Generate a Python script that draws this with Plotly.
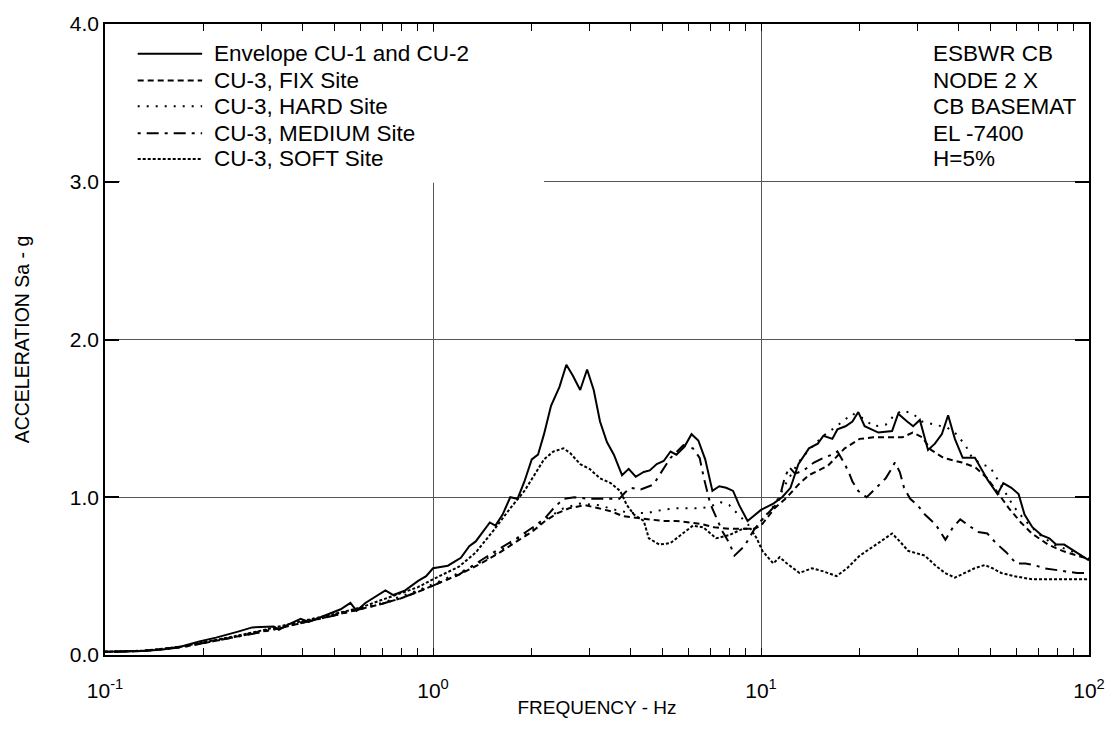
import plotly.graph_objects as go

# ---------------- data (frequency Hz, spectral acceleration g) ----------------
envelope_pts = [
    (0.1, 0.02), (0.13, 0.025), (0.15, 0.035), (0.172, 0.055), (0.194, 0.085),
    (0.218, 0.11), (0.256, 0.15), (0.281, 0.175), (0.327, 0.18), (0.339, 0.16),
    (0.359, 0.19), (0.395, 0.23), (0.418, 0.21), (0.481, 0.26), (0.523, 0.29),
    (0.56, 0.33), (0.585, 0.28), (0.622, 0.33), (0.667, 0.37), (0.716, 0.41),
    (0.757, 0.38), (0.823, 0.41), (0.901, 0.47), (0.953, 0.50), (1.0, 0.55),
    (1.11, 0.566), (1.216, 0.616), (1.29, 0.69), (1.35, 0.72), (1.49, 0.84),
    (1.55, 0.82), (1.63, 0.89), (1.72, 1.0), (1.81, 0.99), (1.90, 1.10),
    (2.0, 1.24), (2.09, 1.27), (2.18, 1.40), (2.29, 1.58), (2.43, 1.70),
    (2.55, 1.84), (2.67, 1.77), (2.81, 1.68), (2.95, 1.81), (3.09, 1.68),
    (3.23, 1.48), (3.39, 1.35), (3.56, 1.27), (3.77, 1.14), (3.95, 1.18),
    (4.15, 1.13), (4.39, 1.16), (4.58, 1.17), (4.81, 1.21), (5.05, 1.23),
    (5.30, 1.29), (5.52, 1.27), (5.84, 1.32), (6.14, 1.40), (6.44, 1.36),
    (6.76, 1.24), (7.11, 1.04), (7.46, 1.07), (7.83, 1.06), (8.22, 1.04),
    (8.58, 0.95), (9.1, 0.85), (9.5, 0.88), (10.0, 0.92), (10.9, 0.96),
    (11.6, 1.0), (12.3, 1.06), (13.0, 1.21), (14.0, 1.31), (14.9, 1.34),
    (15.5, 1.39), (16.5, 1.37), (17.1, 1.43), (18.1, 1.45), (19.0, 1.48),
    (19.8, 1.54), (20.7, 1.45), (21.8, 1.43), (22.8, 1.41), (25.1, 1.42),
    (26.2, 1.53), (27.9, 1.48), (29.1, 1.45), (30.5, 1.49), (32.3, 1.30),
    (33.9, 1.34), (35.6, 1.40), (37.2, 1.52), (39.0, 1.37), (41.2, 1.25),
    (44.9, 1.25), (49.1, 1.11), (52.6, 1.02), (54.8, 1.09), (58.0, 1.06),
    (61.0, 1.02), (63.6, 0.89), (67.2, 0.81), (71.6, 0.76), (75.7, 0.74),
    (79.4, 0.70), (84.0, 0.70), (90.0, 0.66), (100.0, 0.60),
]

fix_pts = [
    (0.1, 0.02), (0.13, 0.025), (0.17, 0.05), (0.2, 0.075), (0.25, 0.115),
    (0.3, 0.145), (0.35, 0.175), (0.4, 0.205), (0.5, 0.25), (0.6, 0.29),
    (0.7, 0.325), (0.8, 0.36), (0.9, 0.40), (1.0, 0.44), (1.2, 0.51),
    (1.4, 0.58), (1.6, 0.65), (1.8, 0.72), (2.0, 0.78), (2.2, 0.85),
    (2.4, 0.90), (2.6, 0.93), (2.9, 0.95), (3.2, 0.93), (3.5, 0.91),
    (3.8, 0.88), (4.2, 0.87), (4.6, 0.86), (5.0, 0.85), (5.5, 0.85),
    (6.0, 0.84), (6.6, 0.83), (7.2, 0.81), (8.0, 0.80), (8.7, 0.80),
    (9.5, 0.80), (10.0, 0.82), (11.0, 0.93), (12.0, 1.0), (13.0, 1.08),
    (14.0, 1.14), (15.0, 1.17), (16.0, 1.20), (18.0, 1.31), (20.0, 1.37),
    (22.0, 1.38), (25.0, 1.38), (27.0, 1.38), (29.0, 1.41), (31.0, 1.38),
    (33.0, 1.30), (36.0, 1.25), (41.0, 1.22), (45.0, 1.19), (49.0, 1.12),
    (53.0, 1.02), (57.0, 0.93), (62.0, 0.84), (67.0, 0.77), (75.0, 0.70),
    (83.0, 0.66), (92.0, 0.63), (100.0, 0.61),
]

hard_pts = [
    (0.1, 0.02), (0.13, 0.025), (0.17, 0.05), (0.2, 0.08), (0.25, 0.12),
    (0.3, 0.15), (0.35, 0.18), (0.4, 0.21), (0.5, 0.255), (0.6, 0.295),
    (0.7, 0.33), (0.8, 0.37), (0.9, 0.41), (1.0, 0.45), (1.2, 0.52),
    (1.4, 0.59), (1.6, 0.66), (1.8, 0.73), (2.0, 0.79), (2.2, 0.86),
    (2.5, 0.93), (2.8, 0.96), (3.2, 0.95), (3.6, 0.92), (4.0, 0.90),
    (4.5, 0.90), (5.0, 0.92), (5.5, 0.93), (6.0, 0.93), (6.5, 0.93),
    (7.0, 0.94), (7.5, 0.97), (8.0, 0.95), (8.6, 0.88), (9.2, 0.82),
    (9.6, 0.80), (10.0, 0.85), (11.0, 0.95), (12.0, 1.10), (13.0, 1.22),
    (14.0, 1.30), (15.5, 1.39), (17.0, 1.45), (19.0, 1.53), (20.5, 1.50),
    (22.0, 1.45), (24.0, 1.46), (25.5, 1.52), (27.0, 1.55), (29.0, 1.53),
    (31.0, 1.48), (34.0, 1.46), (37.0, 1.44), (39.0, 1.41), (42.0, 1.33),
    (44.0, 1.25), (47.0, 1.21), (50.0, 1.19), (53.0, 1.10), (55.0, 1.05),
    (59.0, 0.94), (64.0, 0.85), (70.0, 0.77), (78.0, 0.70), (88.0, 0.66),
    (100.0, 0.61),
]

medium_pts = [
    (0.1, 0.02), (0.13, 0.025), (0.17, 0.048), (0.2, 0.075), (0.25, 0.115),
    (0.3, 0.145), (0.35, 0.175), (0.4, 0.205), (0.5, 0.25), (0.6, 0.29),
    (0.7, 0.325), (0.8, 0.36), (0.9, 0.40), (1.0, 0.44), (1.2, 0.51),
    (1.5, 0.64), (1.8, 0.74), (2.05, 0.82), (2.2, 0.87), (2.33, 0.93),
    (2.5, 0.99), (2.7, 1.0), (3.0, 0.99), (3.3, 0.99), (3.7, 0.99),
    (3.85, 1.03), (4.0, 1.06), (4.3, 1.05), (4.7, 1.08), (4.9, 1.14),
    (5.3, 1.25), (5.8, 1.33), (6.2, 1.31), (6.5, 1.25), (6.7, 1.12),
    (7.0, 0.96), (7.3, 0.87), (7.6, 0.79), (8.0, 0.71), (8.3, 0.63),
    (8.9, 0.69), (9.5, 0.79), (10.0, 0.85), (10.5, 0.90), (11.3, 0.97),
    (11.8, 1.12), (12.2, 1.19), (12.7, 1.15), (13.5, 1.17), (14.5, 1.22),
    (15.5, 1.25), (16.5, 1.27), (17.1, 1.29), (18.0, 1.21), (18.5, 1.16),
    (19.0, 1.10), (19.8, 1.04), (21.0, 1.0), (22.8, 1.07), (24.0, 1.12),
    (25.0, 1.18), (25.6, 1.22), (26.5, 1.16), (27.3, 1.06), (28.5, 0.99),
    (30.0, 0.95), (31.6, 0.89), (34.0, 0.83), (35.5, 0.77), (36.5, 0.73),
    (38.5, 0.81), (40.5, 0.86), (43.0, 0.82), (46.0, 0.78), (49.0, 0.77),
    (52.0, 0.71), (56.0, 0.65), (60.0, 0.58), (64.0, 0.58), (68.0, 0.57),
    (73.0, 0.55), (78.0, 0.54), (85.0, 0.53), (92.0, 0.52), (100.0, 0.52),
]

soft_pts = [
    (0.1, 0.02), (0.13, 0.027), (0.17, 0.052), (0.2, 0.08), (0.25, 0.12),
    (0.3, 0.155), (0.35, 0.185), (0.4, 0.215), (0.5, 0.26), (0.6, 0.30),
    (0.7, 0.35), (0.8, 0.39), (0.9, 0.43), (1.0, 0.48), (1.1, 0.52),
    (1.2, 0.56), (1.35, 0.65), (1.53, 0.79), (1.72, 0.93), (1.9, 1.04),
    (2.05, 1.15), (2.18, 1.24), (2.33, 1.29), (2.5, 1.31), (2.62, 1.28),
    (2.81, 1.21), (3.0, 1.18), (3.23, 1.12), (3.48, 1.09), (3.72, 1.04),
    (3.9, 0.95), (4.1, 0.89), (4.39, 0.85), (4.55, 0.74), (4.9, 0.70),
    (5.3, 0.71), (5.77, 0.77), (6.2, 0.82), (6.66, 0.81), (7.3, 0.74),
    (8.0, 0.76), (8.8, 0.80), (9.3, 0.80), (9.7, 0.74), (10.1, 0.66),
    (10.9, 0.58), (11.4, 0.62), (12.0, 0.58), (13.1, 0.52), (14.3, 0.55),
    (15.5, 0.53), (17.0, 0.50), (18.3, 0.55), (20.0, 0.63), (22.8, 0.71),
    (25.1, 0.77), (26.5, 0.72), (28.1, 0.66), (31.6, 0.63), (33.9, 0.57),
    (36.4, 0.52), (39.0, 0.49), (41.8, 0.52), (44.8, 0.55), (48.1, 0.57),
    (50.8, 0.55), (54.0, 0.52), (59.0, 0.50), (67.0, 0.48), (100.0, 0.48),
]

series_names = [
    "Envelope CU-1 and CU-2",
    "CU-3, FIX Site",
    "CU-3, HARD Site",
    "CU-3, MEDIUM Site",
    "CU-3, SOFT Site",
]

x_tick_vals = [0.1, 1, 10, 100]
x_tick_text = ["10<sup>-1</sup>", "10<sup>0</sup>", "10<sup>1</sup>", "10<sup>2</sup>"]
y_tick_vals = [0.0, 1.0, 2.0, 3.0, 4.0]
minor_x_ticks = [m * d for d in (0.1, 1, 10) for m in range(2, 10)]

info_lines = ["ESBWR CB", "NODE 2 X", "CB BASEMAT", "EL -7400", "H=5%"]

# ---------------- figure ----------------
FONT = "Liberation Sans, Arial, sans-serif"
dashes = ["solid", "6px,4px", "2px,7px", "3px,6px,12px,6px", "3px,2px"]
all_pts = [envelope_pts, fix_pts, hard_pts, medium_pts, soft_pts]

fig = go.Figure()
for name, pts, dash in zip(series_names, all_pts, dashes):
    fig.add_trace(go.Scatter(
        x=[p[0] for p in pts], y=[p[1] for p in pts],
        mode="lines", name=name, showlegend=False,
        line=dict(color="black", width=2, dash=dash),
    ))

W, H = 1117, 734
ml, mr, mt, mb = 105, 19, 19, 79
pw, ph = W - ml - mr, H - mt - mb


def px_x(x):
    return (x - ml) / pw


def px_y(y):
    return (H - mb - y) / ph


fig.update_layout(
    width=W, height=H,
    margin=dict(l=ml, r=mr, t=mt, b=mb, pad=0),
    paper_bgcolor="white", plot_bgcolor="white",
    font=dict(family=FONT, color="black", size=20),
    showlegend=False,
    xaxis=dict(
        type="log", range=[-1, 2],
        tickmode="array", tickvals=x_tick_vals, ticktext=x_tick_text,
        ticks="inside", ticklen=7, tickcolor="black", tickwidth=1,
        showline=True, linecolor="black", linewidth=1.5, mirror="ticks",
        showgrid=True, gridcolor="#555555", gridwidth=1,
        minor=dict(ticks="inside", ticklen=7, tickcolor="black", tickwidth=1,
                   tickmode="array", tickvals=minor_x_ticks, showgrid=False),
        tickfont=dict(family=FONT, size=21),
        ticklabelstandoff=16,
        title=dict(text="FREQUENCY - Hz", font=dict(family=FONT, size=19), standoff=0),
        zeroline=False,
    ),
    yaxis=dict(
        range=[0, 4], tickmode="array", tickvals=y_tick_vals, tickformat=".1f",
        ticks="inside", ticklen=14, tickcolor="black", tickwidth=1.5,
        showline=True, linecolor="black", linewidth=1.5, mirror="ticks",
        showgrid=True, gridcolor="#555555", gridwidth=1,
        tickfont=dict(family=FONT, size=21),
        title=dict(text="ACCELERATION Sa - g", font=dict(family=FONT, size=19.5), standoff=35),
        zeroline=False,
    ),
)

# legend panel (white box hiding the grid, line samples and labels)
row_y = [49, 76, 102, 129, 155]
fig.add_shape(type="rect", xref="paper", yref="paper",
              x0=px_x(120), x1=px_x(548), y0=px_y(179), y1=px_y(27),
              fillcolor="white", line=dict(width=0), layer="above")
for name, dash, yy in zip(series_names, dashes, row_y):
    fig.add_shape(type="line", xref="paper", yref="paper",
                  x0=px_x(138), x1=px_x(203), y0=px_y(yy), y1=px_y(yy),
                  line=dict(color="black", width=2, dash=dash), layer="above")
    fig.add_annotation(xref="paper", yref="paper", x=px_x(213), y=px_y(yy),
                       xanchor="left", yanchor="middle", showarrow=False,
                       text=name, font=dict(family=FONT, size=22.5, color="black"))

for txt, yy in zip(info_lines, row_y):
    fig.add_annotation(
        xref="paper", yref="paper", x=px_x(939), y=px_y(yy),
        xanchor="left", yanchor="middle", showarrow=False,
        text=txt, font=dict(family=FONT, size=22.5, color="black"),
    )

fig.write_html("out.html", config={"displayModeBar": False},
               post_script="document.body.style.margin='0';")
